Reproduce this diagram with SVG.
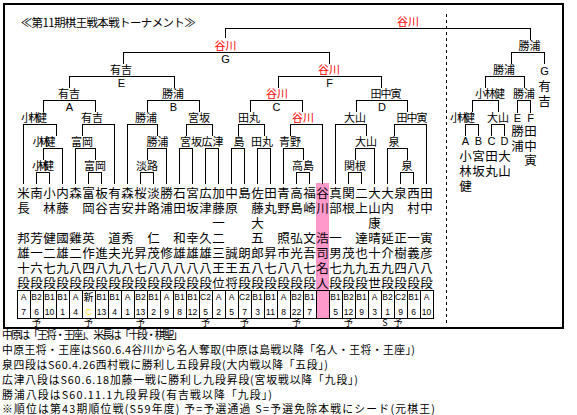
<svg xmlns="http://www.w3.org/2000/svg" width="577" height="415" viewBox="0 0 577 415">
<style>
.l{stroke:#000;stroke-width:1;fill:none;shape-rendering:crispEdges}
text{font-family:"Noto Sans CJK JP","Noto Sans",sans-serif;fill:#000}
.lb{font-size:11px;text-anchor:middle}
.r{fill:#f00}
.lt{font-family:"Liberation Sans",sans-serif;font-size:11px;text-anchor:middle}
.nm{font-size:12.5px;text-anchor:middle}
.tb{font-family:"Liberation Sans",sans-serif;font-size:8.5px;text-anchor:middle}
.yo{font-size:9px;text-anchor:middle}
.ft{font-size:11.5px}
.nt{font-size:10.8px}
</style>
<rect x="0" y="0" width="577" height="415" fill="#fff"/>
<rect x="4" y="4" width="559" height="324" fill="none" stroke="#000" stroke-width="2"/>
<rect x="316" y="183" width="13" height="135" fill="#ff99cc"/>
<text x="20.7" y="27" class="ft" textLength="175">≪第11期棋王戦本戦トーナメント≫</text>
<line x1="446.5" y1="14" x2="446.5" y2="326" stroke="#000" stroke-dasharray="3,3"/>
<g id="connectors" class="l">
<path d="M225.5 38V28.5H530.5V40M123.5 64V52.5H329.5V64M511.5 64V52.5H544.5V64M69.5 88V76.5H174.5V88M278.5 88V76.5H381.5V88M485.5 88V76.5H524.5V88"/>
<path d="M43.5 112V100.5H95.5V112M147.5 112V100.5H199.5V112M250.5 112V100.5H302.5V112M356.5 112V100.5H407.5V112M472.5 112V100.5H498.5V112M517.5 113V100.5H530.5V113M465.5 136V124.5H478.5V136M491.5 136V124.5H504.5V136"/>
<path d="M23.5 184V124.5H56.5V136M82.5 136V124.5H114.5V184M127.5 184V124.5H157.5V136M186.5 136V124.5H212.5V136M238.5 136V124.5H264.5V136M290.5 136V124.5H322.5V184M335.5 184V124.5H366.5V136M394.5 136V124.5H426.5V184"/>
<path d="M43.5 160V148.5H62.5V184M75.5 184V148.5H95.5V160M147.5 160V148.5H166.5V184M179.5 184V148.5H192.5V184M205.5 184V148.5H218.5V184M231.5 184V148.5H244.5V184M257.5 184V148.5H270.5V184M283.5 184V148.5H303.5V160M355.5 160V148.5H374.5V184M387.5 184V148.5H407.5V160"/>
<path d="M36.5 184V172.5H49.5V184M88.5 184V172.5H101.5V184M140.5 184V172.5H153.5V184M296.5 184V172.5H309.5V184M348.5 184V172.5H361.5V184M400.5 184V172.5H413.5V184"/>
</g>
<g id="m-final"><text class="lb r" x="408" y="25.5">谷川</text></g>
<g id="m-G"><text class="lb r" x="225.5" y="49.5">谷川</text><text class="lt" x="225.5" y="62.5">G</text></g>
<g id="m-RG"><text class="lb" x="529.5" y="49.5">勝浦</text></g>
<g id="m-E"><text class="lb" x="121" y="73.5">有吉</text><text class="lt" x="121.5" y="86.5">E</text></g>
<g id="m-F"><text class="lb r" x="329" y="73.5">谷川</text><text class="lt" x="329.5" y="86.5">F</text></g>
<g id="m-R2"><text class="lb" x="504" y="73.5">勝浦</text></g>
<g id="m-A"><text class="lb" x="69" y="97.5">有吉</text><text class="lt" x="69.5" y="110.5">A</text></g>
<g id="m-B"><text class="lb" x="173" y="97.5">勝浦</text><text class="lt" x="173.5" y="110.5">B</text></g>
<g id="m-C"><text class="lb r" x="277" y="97.5">谷川</text><text class="lt" x="276.5" y="110.5">C</text></g>
<g id="m-D"><text class="lb" x="386" y="97.5" textLength="31">田中寅</text><text class="lt" x="382" y="110.5">D</text></g>
<g id="m-R3a"><text class="lb" x="490" y="97.5" textLength="30">小林健</text></g>
<g id="m-R3b"><text class="lb" x="524" y="97.5">勝浦</text></g>
<g id="m-R4a"><text class="lb" x="462.5" y="121.5" textLength="25">小林健</text></g>
<g id="m-R4b"><text class="lb" x="498" y="121.5">大山</text></g>
<g id="m-L1"><text class="lb" x="34" y="121.5" textLength="26">小林健</text></g>
<g id="m-L2"><text class="lb" x="92" y="121.5">有吉</text></g>
<g id="m-L3"><text class="lb" x="146" y="121.5">勝浦</text></g>
<g id="m-L4"><text class="lb" x="199" y="121.5">宮坂</text></g>
<g id="m-L5"><text class="lb" x="249" y="121.5">田丸</text></g>
<g id="m-L6"><text class="lb r" x="303" y="121.5">谷川</text></g>
<g id="m-L7"><text class="lb" x="355" y="121.5">大山</text></g>
<g id="m-L8"><text class="lb" x="412" y="121.5" textLength="31">田中寅</text></g>
<g id="m-K1"><text class="lb" x="44" y="145.5" textLength="23">小林健</text></g>
<g id="m-K2"><text class="lb" x="82" y="145.5">富岡</text></g>
<g id="m-K3"><text class="lb" x="157.5" y="145.5">勝浦</text></g>
<g id="m-K4"><text class="lb" x="191" y="145.5">宮坂</text></g>
<g id="m-K5"><text class="lb" x="212.5" y="145.5">広津</text></g>
<g id="m-K6"><text class="lb" x="239" y="145.5">島</text></g>
<g id="m-K7"><text class="lb" x="262" y="145.5">田丸</text></g>
<g id="m-K8"><text class="lb" x="290" y="145.5">青野</text></g>
<g id="m-K9"><text class="lb" x="366" y="145.5">大山</text></g>
<g id="m-K10"><text class="lb" x="394" y="145.5">泉</text></g>
<g id="m-J1"><text class="lb" x="43" y="169.5" textLength="22">小林健</text></g>
<g id="m-J2"><text class="lb" x="95" y="169.5">富岡</text></g>
<g id="m-J3"><text class="lb" x="147" y="169.5">淡路</text></g>
<g id="m-J4"><text class="lb" x="303" y="169.5">高島</text></g>
<g id="m-J5"><text class="lb" x="355" y="169.5">関根</text></g>
<g id="m-J6"><text class="lb" x="407" y="169.5">泉</text></g>
<g id="losers" class="nm">
<text class="lt" x="544.5" y="74.5">G</text><text x="544.5 544.5" y="91 106">有吉</text>
<text class="lt" x="517.5" y="121.5">E</text><text x="517.5 517.5" y="136 150.5">勝浦</text>
<text class="lt" x="530.5" y="121.5">F</text><text x="530.5 530.5 530.5" y="136 150.5 165">田中寅</text>
<text class="lt" x="465.5" y="144.5">A</text><text x="465.5 465.5 465.5" y="160.5 175.5 190.5">小林健</text>
<text class="lt" x="478.5" y="144.5">B</text><text x="478.5 478.5" y="160.5 175.5">宮坂</text>
<text class="lt" x="491.5" y="144.5">C</text><text x="491.5 491.5" y="160.5 175.5">田丸</text>
<text class="lt" x="504.5" y="144.5">D</text><text x="504.5 504.5" y="160.5 175.5">大山</text>
</g>
<g id="players" class="nm">
<text id="p0" x="23.5 23.5 23.5 23.5 23.5 23.5" y="197.5 212.5 242.5 257.5 272.5 287.5">米長邦雄十段</text>
<text id="p1" x="36.5 36.5 36.5 36.5 36.5" y="197.5 242.5 257.5 272.5 287.5">南芳一六段</text>
<text id="p2" x="49.5 49.5 49.5 49.5 49.5 49.5" y="197.5 212.5 242.5 257.5 272.5 287.5">小林健二七段</text>
<text id="p3" x="62.5 62.5 62.5 62.5 62.5 62.5" y="197.5 212.5 242.5 257.5 272.5 287.5">内藤國雄九段</text>
<text id="p4" x="75.5 75.5 75.5 75.5 75.5" y="197.5 242.5 257.5 272.5 287.5">森雞二八段</text>
<text id="p5" x="88.5 88.5 88.5 88.5 88.5 88.5" y="197.5 212.5 242.5 257.5 272.5 287.5">富岡英作四段</text>
<text id="p6" x="101.5 101.5 101.5 101.5 101.5" y="197.5 212.5 257.5 272.5 287.5">板谷進八段</text>
<text id="p7" x="114.5 114.5 114.5 114.5 114.5 114.5" y="197.5 212.5 242.5 257.5 272.5 287.5">有吉道夫九段</text>
<text id="p8" x="127.5 127.5 127.5 127.5 127.5 127.5" y="197.5 212.5 242.5 257.5 272.5 287.5">森安秀光八段</text>
<text id="p9" x="140.5 140.5 140.5 140.5 140.5" y="197.5 212.5 257.5 272.5 287.5">桜井昇七段</text>
<text id="p10" x="153.5 153.5 153.5 153.5 153.5 153.5" y="197.5 212.5 242.5 257.5 272.5 287.5">淡路仁茂八段</text>
<text id="p11" x="166.5 166.5 166.5 166.5 166.5" y="197.5 212.5 257.5 272.5 287.5">勝浦修八段</text>
<text id="p12" x="179.5 179.5 179.5 179.5 179.5 179.5" y="197.5 212.5 242.5 257.5 272.5 287.5">石田和雄八段</text>
<text id="p13" x="192.5 192.5 192.5 192.5 192.5 192.5" y="197.5 212.5 242.5 257.5 272.5 287.5">宮坂幸雄八段</text>
<text id="p14" x="205.5 205.5 205.5 205.5 205.5 205.5" y="197.5 212.5 242.5 257.5 272.5 287.5">広津久雄八段</text>
<text id="p15" x="218.5 218.5 218.5 218.5 218.5 218.5 218.5" y="197.5 212.5 227.5 242.5 257.5 272.5 287.5">加藤一二三王位</text>
<text id="p16" x="231.5 231.5 231.5 231.5 231.5" y="197.5 212.5 257.5 272.5 287.5">中原誠王将</text>
<text id="p17" x="244.5 244.5 244.5 244.5" y="197.5 257.5 272.5 287.5">島朗五段</text>
<text id="p18" x="257.5 257.5 257.5 257.5 257.5 257.5 257.5" y="197.5 212.5 227.5 242.5 257.5 272.5 287.5">佐藤大五郎八段</text>
<text id="p19" x="270.5 270.5 270.5 270.5 270.5" y="197.5 212.5 257.5 272.5 287.5">田丸昇七段</text>
<text id="p20" x="283.5 283.5 283.5 283.5 283.5 283.5" y="197.5 212.5 242.5 257.5 272.5 287.5">青野照市八段</text>
<text id="p21" x="296.5 296.5 296.5 296.5 296.5 296.5" y="197.5 212.5 242.5 257.5 272.5 287.5">高島弘光八段</text>
<text id="p22" x="309.5 309.5 309.5 309.5 309.5 309.5" y="197.5 212.5 242.5 257.5 272.5 287.5">福崎文吾七段</text>
<text id="p23" x="322.5 322.5 322.5 322.5 322.5 322.5" y="197.5 212.5 242.5 257.5 272.5 287.5">谷川浩司名人</text>
<text id="p24" x="335.5 335.5 335.5 335.5 335.5 335.5" y="197.5 212.5 242.5 257.5 272.5 287.5">真部一男七段</text>
<text id="p25" x="348.5 348.5 348.5 348.5 348.5" y="197.5 212.5 257.5 272.5 287.5">関根茂九段</text>
<text id="p26" x="361.5 361.5 361.5 361.5 361.5 361.5" y="197.5 212.5 242.5 257.5 272.5 287.5">二上達也九段</text>
<text id="p27" x="374.5 374.5 374.5 374.5 374.5 374.5 374.5" y="197.5 212.5 227.5 242.5 257.5 272.5 287.5">大山康晴十五世</text>
<text id="p28" x="387.5 387.5 387.5 387.5 387.5 387.5" y="197.5 212.5 242.5 257.5 272.5 287.5">大内延介九段</text>
<text id="p29" x="400.5 400.5 400.5 400.5 400.5" y="197.5 242.5 257.5 272.5 287.5">泉正樹四段</text>
<text id="p30" x="413.5 413.5 413.5 413.5 413.5 413.5" y="197.5 212.5 242.5 257.5 272.5 287.5">西村一義八段</text>
<text id="p31" x="426.5 426.5 426.5 426.5 426.5 426.5" y="197.5 212.5 242.5 257.5 272.5 287.5">田中寅彦八段</text>
</g>
<g id="rank-table">
<rect x="17.5" y="290.5" width="416" height="27.5" fill="none" stroke="#000" shape-rendering="crispEdges"/>
<path class="l" d="M30.5 290.5V318M43.5 290.5V318M56.5 290.5V318M69.5 290.5V318M82.5 290.5V318M95.5 290.5V318M108.5 290.5V318M121.5 290.5V318M134.5 290.5V318M147.5 290.5V318M160.5 290.5V318M173.5 290.5V318M186.5 290.5V318M199.5 290.5V318M212.5 290.5V318M225.5 290.5V318M238.5 290.5V318M251.5 290.5V318M264.5 290.5V318M277.5 290.5V318M290.5 290.5V318M303.5 290.5V318M316.5 290.5V318M329.5 290.5V318M342.5 290.5V318M355.5 290.5V318M368.5 290.5V318M381.5 290.5V318M394.5 290.5V318M407.5 290.5V318M420.5 290.5V318"/>
<text class="tb" y="300"><tspan x="23.5">A</tspan><tspan x="36.5">B2</tspan><tspan x="49.5">B1</tspan><tspan x="62.5">B1</tspan><tspan x="75.5">A</tspan><tspan x="101.5">B1</tspan><tspan x="114.5">B1</tspan><tspan x="127.5">A</tspan><tspan x="140.5">B2</tspan><tspan x="153.5">B1</tspan><tspan x="166.5">A</tspan><tspan x="179.5">B1</tspan><tspan x="192.5">B1</tspan><tspan x="205.5">C2</tspan><tspan x="218.5">A</tspan><tspan x="231.5">A</tspan><tspan x="244.5">C2</tspan><tspan x="257.5">B1</tspan><tspan x="270.5">B1</tspan><tspan x="283.5">A</tspan><tspan x="296.5">B2</tspan><tspan x="309.5">B1</tspan><tspan x="335.5">B1</tspan><tspan x="348.5">B2</tspan><tspan x="361.5">B1</tspan><tspan x="374.5">A</tspan><tspan x="387.5">B2</tspan><tspan x="400.5">C2</tspan><tspan x="413.5">B1</tspan><tspan x="426.5">A</tspan></text>
<text x="88.5" y="301" font-size="10" text-anchor="middle">新</text>
<text class="tb" y="314.5"><tspan x="23.5">7</tspan><tspan x="36.5">6</tspan><tspan x="49.5">10</tspan><tspan x="62.5">1</tspan><tspan x="75.5">4</tspan><tspan x="101.5">13</tspan><tspan x="114.5">4</tspan><tspan x="127.5">1</tspan><tspan x="140.5">13</tspan><tspan x="153.5">2</tspan><tspan x="166.5">9</tspan><tspan x="179.5">8</tspan><tspan x="192.5">12</tspan><tspan x="205.5">5</tspan><tspan x="218.5">2</tspan><tspan x="231.5">5</tspan><tspan x="244.5">7</tspan><tspan x="257.5">3</tspan><tspan x="270.5">11</tspan><tspan x="283.5">8</tspan><tspan x="296.5">22</tspan><tspan x="309.5">7</tspan><tspan x="335.5">5</tspan><tspan x="348.5">12</tspan><tspan x="361.5">9</tspan><tspan x="374.5">3</tspan><tspan x="387.5">1</tspan><tspan x="400.5">9</tspan><tspan x="413.5">6</tspan><tspan x="426.5">10</tspan></text>
<text class="tb" x="88.5" y="314.5" style="fill:#ffe000">C</text>
</g>
<g id="qualifiers" class="yo">
<text x="36.5" y="326">予</text><text x="88.5" y="326">予</text><text x="140.5" y="326">予</text><text x="205.5" y="326">予</text><text x="244.5" y="326">予</text><text x="296.5" y="326">予</text><text x="348.5" y="326">予</text><text x="385" y="326" font-family="Liberation Sans">S</text><text x="398" y="326">予</text>
</g>
<g id="notes" class="nt">
<text x="2" y="338.5" textLength="181">中原は「王将・王座」、米長は「十段・棋聖」</text>
<text x="2" y="354" textLength="413">中原王将・王座はS60.6.4谷川から名人奪取(中原は島戦以降「名人・王将・王座」)</text>
<text x="2" y="369" textLength="326">泉四段はS60.4.26西村戦に勝利し五段昇段(大内戦以降「五段」)</text>
<text x="2" y="384" textLength="356">広津八段はS60.6.18加藤一戦に勝利し九段昇段(宮坂戦以降「九段」)</text>
<text x="2" y="399" textLength="270">勝浦八段はS60.11.1九段昇段(有吉戦以降「九段」)</text>
<text x="2" y="413" textLength="433">※順位は第43期順位戦(S59年度) 予=予選通過 S=予選免除本戦にシード(元棋王)</text>
</g>
</svg>
